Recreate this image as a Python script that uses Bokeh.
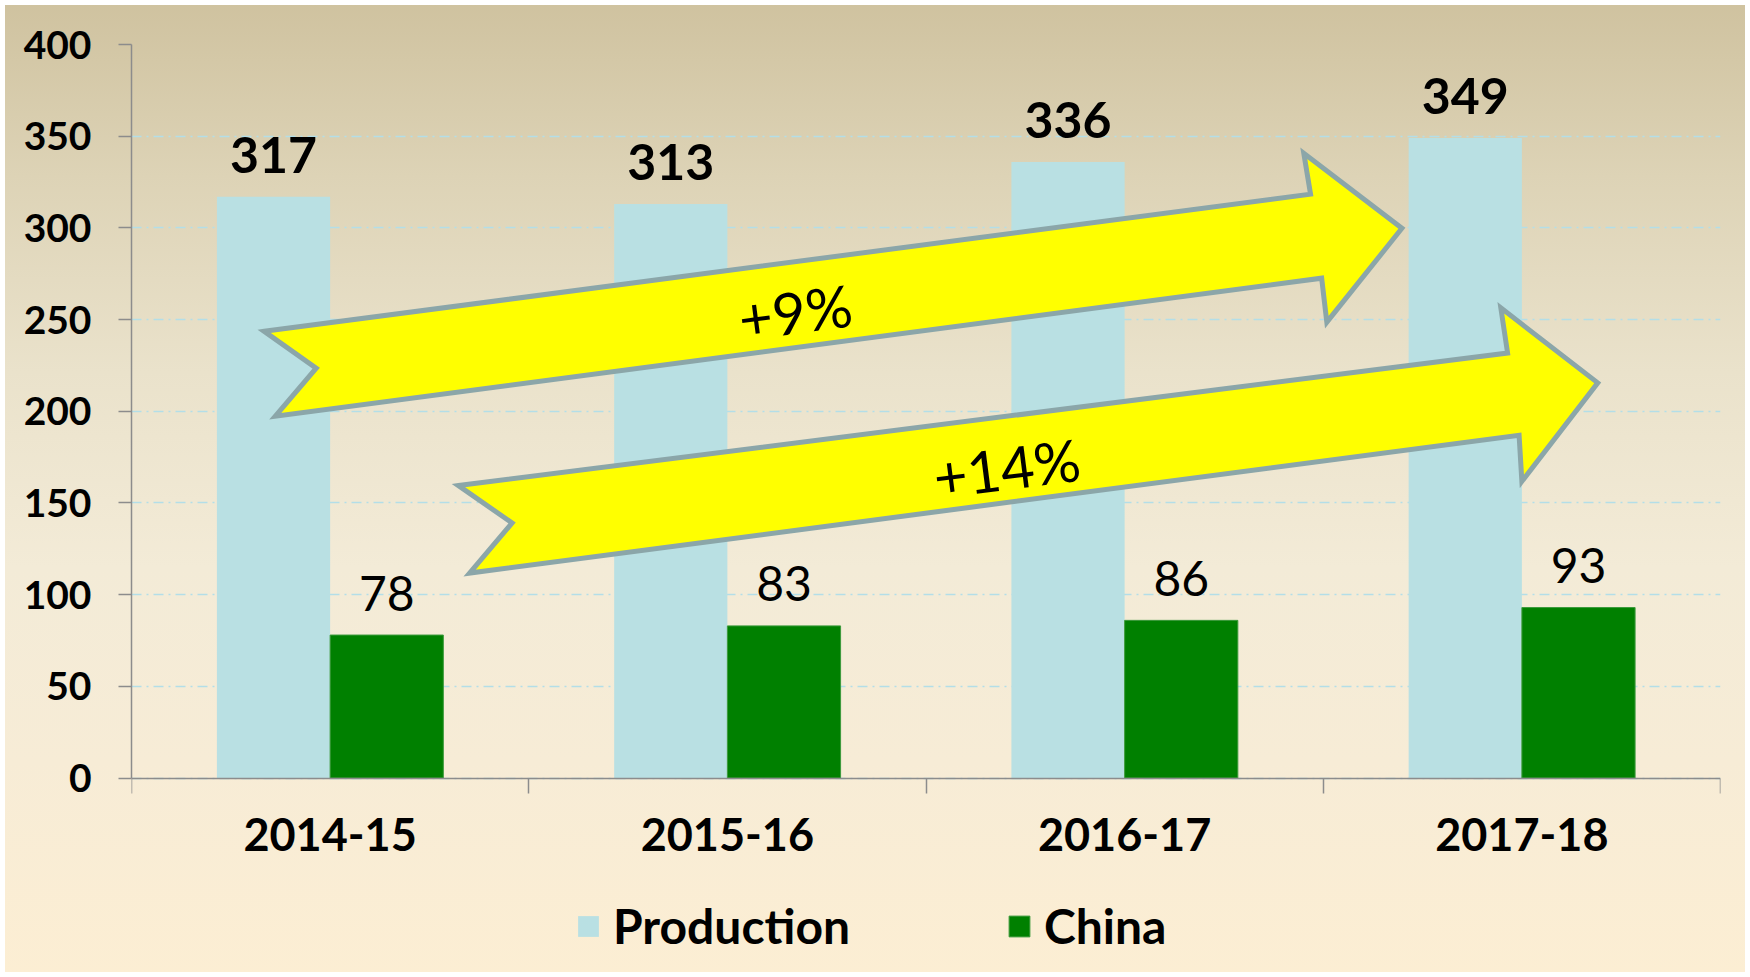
import math
from bokeh.plotting import figure
from bokeh.models import (Range1d, FixedTicker, Legend, LegendItem, ColumnDataSource)
from bokeh.core.properties import value
from bokeh.embed import file_html
from bokeh.resources import INLINE

# ---- data ----
categories = ["2014-15", "2015-16", "2016-17", "2017-18"]
production = [317, 313, 336, 349]
china = [78, 83, 86, 93]
y_ticks = [0, 50, 100, 150, 200, 250, 300, 350, 400]

# growth annotations (arrow outlines in data units: x = category slot units, y = value units)
growth_labels = ["+9%", "+14%"]
arrow1_x = [0.334, 2.968, 2.951, 3.198, 3.009, 2.996, 0.362, 0.465]
arrow1_y = [243.6, 318.4, 340.7, 299.8, 248.6, 272.6, 197.3, 223.5]
arrow2_x = [0.823, 3.464, 3.447, 3.691, 3.500, 3.493, 0.851, 0.958]
arrow2_y = [159.5, 231.8, 256.4, 215.5, 161.8, 186.9, 111.8, 139.1]
growth_label_x = [1.671, 2.203]
growth_label_y = [254.6, 169.4]
growth_label_angle_deg = [7.45, 7.3]

FONT = "Lato"
BAR_W = 0.285
Y_MIN_VIEW = -106  # room below the axis (for category labels and legend)

p = figure(width=1750, height=977, output_backend="svg", toolbar_location=None,
           x_range=Range1d(0, len(categories)), y_range=Range1d(Y_MIN_VIEW, 400),
           min_border_left=131, min_border_right=30, min_border_top=44, min_border_bottom=5)
p.border_fill_color = None
p.background_fill_color = None
p.outline_line_color = None
p.styles = {
    "background": "linear-gradient(to bottom, #CFC29F 0%, #DDD3B6 18%, #EAE2CB 38%, #F3EBD7 58%, #F7ECD6 78%, #FCEED3 100%)",
    "box-shadow": "inset 0 0 0 5px white",
}

centers = [i + 0.5 for i in range(len(categories))]
prod_x = [c - BAR_W / 2 for c in centers]
china_x = [c + BAR_W / 2 for c in centers]

src = ColumnDataSource(dict(cat=categories, prod_x=prod_x, china_x=china_x,
                            production=production, china=china,
                            prod_lbl=[str(v) for v in production],
                            china_lbl=[str(v) for v in china]))

r_prod = p.vbar(x="prod_x", top="production", width=BAR_W, source=src,
                fill_color="#B9E0E3", line_color=None)
r_china = p.vbar(x="china_x", top="china", width=BAR_W, source=src,
                 fill_color="#008000", line_color="#3C9A3C", line_width=1)

p.text(x="prod_x", y="production", text="prod_lbl", source=src, y_offset=-42,
       text_align="center", text_baseline="alphabetic", text_font=value(FONT),
       text_font_style="bold", text_font_size="50px", text_color="black")
p.text(x="china_x", y="china", text="china_lbl", source=src, y_offset=-42,
       text_align="center", text_baseline="alphabetic", text_font=value(FONT),
       text_font_style="normal", text_font_size="48px", text_color="black")

p.patches(xs=[arrow1_x, arrow2_x], ys=[arrow1_y, arrow2_y], fill_color="#FFFF00",
          line_color="#8BA6A9", line_width=5, line_join="miter")

p.text(x=growth_label_x, y=growth_label_y, text=growth_labels,
       angle=[math.radians(a) for a in growth_label_angle_deg],
       text_align="center", text_baseline="middle", text_font=value(FONT),
       text_font_size="58px", text_color="black")

# axes
AX = "#8C8C8C"
xa = p.xaxis[0]
xa.fixed_location = 0
xa.ticker = FixedTicker(ticks=centers, minor_ticks=list(range(len(categories) + 1)))
xa.major_label_overrides = {c: cat for c, cat in zip(centers, categories)}
xa.major_tick_line_color = None
xa.minor_tick_line_color = AX
xa.minor_tick_line_width = 1.5
xa.minor_tick_out = 15
xa.minor_tick_in = 0
xa.axis_line_color = AX
xa.axis_line_width = 1.5
xa.major_label_standoff = 25
xa.major_label_text_font = FONT
xa.major_label_text_font_style = "bold"
xa.major_label_text_font_size = "45px"
xa.major_label_text_color = "black"

ya = p.yaxis[0]
ya.bounds = (0, 400)
ya.ticker = FixedTicker(ticks=y_ticks)
ya.minor_tick_line_color = None
ya.major_tick_line_color = AX
ya.major_tick_line_width = 1.5
ya.major_tick_out = 13
ya.major_tick_in = 0
ya.axis_line_color = AX
ya.axis_line_width = 1.5
ya.major_label_standoff = 27
ya.major_label_text_font = FONT
ya.major_label_text_font_style = "bold"
ya.major_label_text_font_size = "39px"
ya.major_label_text_color = "black"

p.xgrid.grid_line_color = None
p.ygrid.grid_line_color = "#B3DEE8"
p.ygrid.grid_line_width = 1.5
p.ygrid.grid_line_dash = "10 5 2 5"

legend = Legend(items=[LegendItem(label="Production", renderers=[r_prod]),
                       LegendItem(label="China", renderers=[r_china])],
                location=(444, 18), orientation="horizontal",
                glyph_width=26, glyph_height=26, label_standoff=12, spacing=143,
                label_width=250,
                padding=0, margin=0, border_line_color=None, background_fill_alpha=0,
                label_text_font=FONT, label_text_font_style="bold",
                label_text_font_size="48px", label_text_color="black")
p.add_layout(legend, "center")

open("out.html", "w").write(file_html(p, INLINE))
